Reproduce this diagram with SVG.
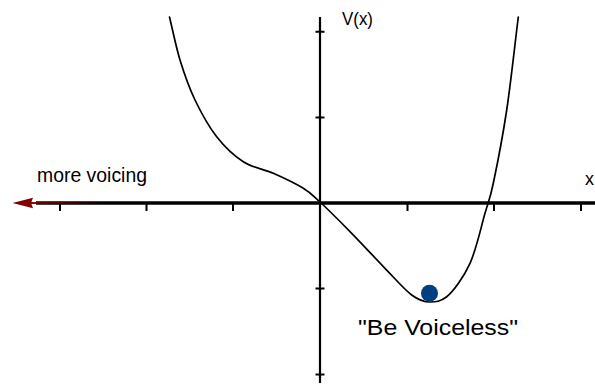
<svg xmlns="http://www.w3.org/2000/svg" width="595" height="388" viewBox="0 0 595 388">
<defs>
<style>
.lbl{font-family:"Liberation Sans",Arial,sans-serif;fill:#000}
.tick{stroke:#000;stroke-width:2}
</style>
<linearGradient id="fade" x1="30" y1="0" x2="105" y2="0" gradientUnits="userSpaceOnUse">
<stop offset="0" stop-color="#800000"/>
<stop offset="1" stop-color="#800000" stop-opacity="0"/>
</linearGradient>
</defs>
<rect width="595" height="388" fill="#fff"/>
<g id="connectors">
<g id="x-axis">
<line x1="36" y1="203" x2="595" y2="203" stroke="#000" stroke-width="3.6"/>
<path class="tick" d="M60,204V211M146.5,204V211M233,204V211M407.5,204V211M494,204V211M581,204V211"/>
</g>
<g id="y-axis">
<line x1="320" y1="17" x2="320" y2="383" stroke="#000" stroke-width="2.2"/>
<path class="tick" d="M315.5,31.7H324.5M315.5,117.5H324.5M315.5,288.5H324.5M315.5,374.5H324.5"/>
</g>
<g id="voicing-arrow">
<line x1="30" y1="203" x2="105" y2="203" stroke="url(#fade)" stroke-width="2"/>
<path d="M12.5,203L33,197.8L31,203L33,208.2Z" fill="#800000"/>
</g>
<path id="potential" fill="none" stroke="#000" stroke-width="1.7" stroke-linecap="round" d="M169.5,17 C173,31.3 175.75,46.17 180,60 C184.25,73.83 188.88,87.22 195,100 C201.12,112.78 208.65,126.42 216.7,136.7 C224.75,146.98 233.87,155.6 243.3,161.7 C252.73,167.8 263.3,168.87 273.3,173.3 C283.3,177.73 295.52,183.52 303.3,188.3 C311.08,193.08 311.93,194.5 320,202 C328.07,209.5 340.87,222.25 351.7,233.3 C362.53,244.35 375,258.02 385,268.3 C395,278.58 404.2,289.38 411.7,295 C419.2,300.62 424,302 430,302 C436,302 440.03,301.7 446.7,296.7 C453.37,291.7 463.62,277.2 470,263.3 C476.38,249.4 481.12,226.63 485,213.3 C488.88,199.97 489.68,200.5 493.3,183.3 C496.92,166.1 502.53,137.7 506.7,110 C510.87,82.3 514.43,48 518.3,17"/>
</g>
<g id="ball">
<circle cx="429.5" cy="293.3" r="8.5" fill="#003f80"/>
</g>
<g id="labels">
<text id="label-v" class="lbl" x="342" y="25" font-size="18" textLength="31" lengthAdjust="spacingAndGlyphs">V(x)</text>
<text id="label-x" class="lbl" x="585" y="185" font-size="18">x</text>
<text id="label-more-voicing" class="lbl" x="37" y="182" font-size="19.5" textLength="110" lengthAdjust="spacingAndGlyphs">more voicing</text>
<text id="label-voiceless" class="lbl" x="358" y="335" font-size="22" textLength="160" lengthAdjust="spacingAndGlyphs">"Be Voiceless"</text>
</g>
</svg>
